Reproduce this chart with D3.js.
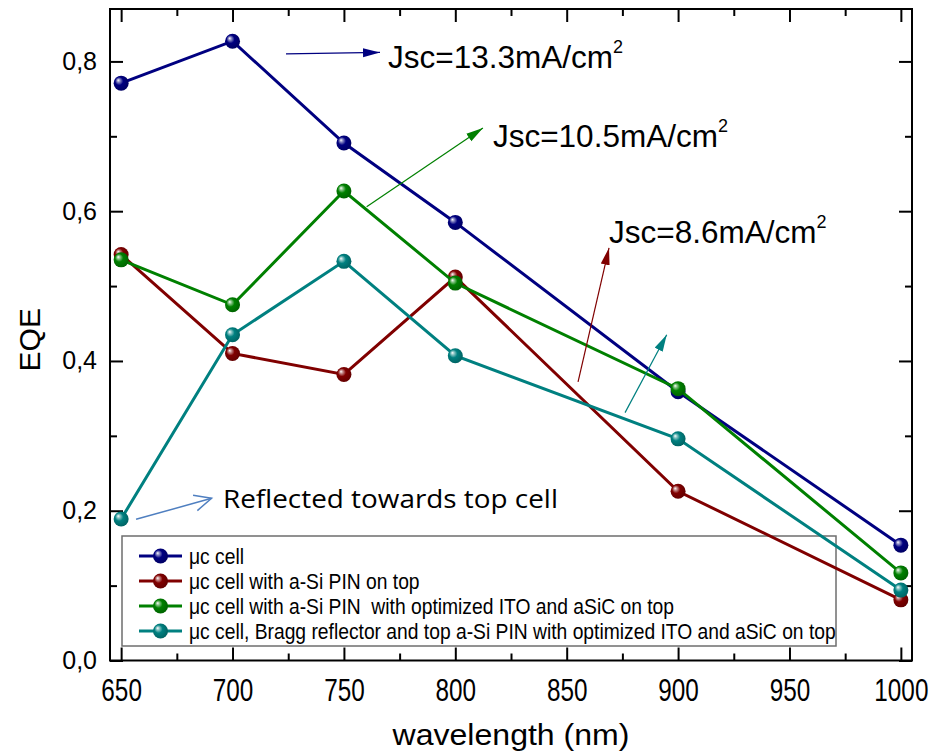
<!DOCTYPE html>
<html>
<head>
<meta charset="utf-8">
<script src="https://cdn.jsdelivr.net/npm/d3@7"></script>
<style>
  body { margin: 0; background: #fff; }
  text { font-family: "Liberation Sans", Arial, sans-serif; fill: #000; }
</style>
</head>
<body>
<div id="graph"></div>
<script>
"use strict";

let width = 930,
    height = 752;

// data
const wavelengths = [650, 700, 750, 800, 900, 1000];
const eqeCell      = [0.771, 0.827, 0.691, 0.585, 0.359, 0.154];
const eqeTopPin    = [0.542, 0.410, 0.382, 0.512, 0.226, 0.081];
const eqeOptimized = [0.535, 0.475, 0.627, 0.504, 0.363, 0.117];
const eqeBragg     = [0.189, 0.435, 0.533, 0.407, 0.296, 0.094];

const seriesNames = [
    "\u03bcc cell",
    "\u03bcc cell with a-Si PIN on top",
    "\u03bcc cell with a-Si PIN  with optimized ITO and aSiC on top",
    "\u03bcc cell, Bragg reflector and top a-Si PIN with optimized ITO and aSiC on top"
];
const seriesColors = ["#000080", "#800000", "#008000", "#008080"];
const seriesValues = [eqeCell, eqeTopPin, eqeOptimized, eqeBragg];

const xMajorTicks = [650, 700, 750, 800, 850, 900, 950, 1000];
const xMinorTicks = [675, 725, 775, 825, 875, 925, 975];
const yMajorTicks = [0, 0.2, 0.4, 0.6, 0.8];
const yMinorTicks = [0.1, 0.3, 0.5, 0.7];

// annotations in data units
const jscLabels = [
    { text: "Jsc=13.3mA/cm", x: 769.8, y: 0.791 },
    { text: "Jsc=10.5mA/cm", x: 816.9, y: 0.686 },
    { text: "Jsc=8.6mA/cm",  x: 869.0, y: 0.558 }
];
const jscArrows = [
    { from: [724.0, 0.810], to: [766.2, 0.812], color: "#000080" },
    { from: [760.2, 0.606], to: [812.4, 0.711], color: "#008000" },
    { from: [855.1, 0.372], to: [869.0, 0.551], color: "#800000" },
    { from: [876.2, 0.331], to: [894.9, 0.435], color: "#008080" }
];
const reflectNote = { text: "Reflected towards top cell", x: 695.7, y: 0.2036,
                      from: [656.7, 0.1885], to: [690.6, 0.2166] };

const plot = { left: 110, right: 912, top: 9, bottom: 660.5 };

let svg = d3.select("#graph").append("svg")
    .attr("width", width)
    .attr("height", height);

let x = d3.scaleLinear().domain([645, 1005]).range([plot.left, plot.right]);
let y = d3.scaleLinear().domain([0, 0.87]).range([plot.bottom, plot.top]);

let defs = svg.append("defs");

// shaded ball markers
seriesColors.forEach(function(c, i) {
    let g = defs.append("radialGradient")
        .attr("id", "ball" + i)
        .attr("cx", 0.45).attr("cy", 0.45).attr("r", 0.6)
        .attr("fx", 0.3).attr("fy", 0.3);
    g.append("stop").attr("offset", "0%").attr("stop-color", "#ffffff");
    g.append("stop").attr("offset", "18%").attr("stop-color", d3.interpolateRgb(c, "#fff")(0.55));
    g.append("stop").attr("offset", "45%").attr("stop-color", c);
    g.append("stop").attr("offset", "100%").attr("stop-color", d3.color(c).darker(0.8));
});

// arrow heads
jscArrows.forEach(function(a, i) {
    defs.append("marker")
        .attr("id", "head" + i)
        .attr("markerUnits", "userSpaceOnUse")
        .attr("markerWidth", 18).attr("markerHeight", 10)
        .attr("refX", 17).attr("refY", 5)
        .attr("orient", "auto")
        .append("path")
        .attr("d", "M0,0.5 L17,5 L0,9.5 Z")
        .attr("fill", a.color);
});
defs.append("marker")
    .attr("id", "openHead")
    .attr("markerUnits", "userSpaceOnUse")
    .attr("markerWidth", 22).attr("markerHeight", 20)
    .attr("refX", 19).attr("refY", 10)
    .attr("orient", "auto")
    .append("path")
    .attr("d", "M2,2 L19,10 L2,18")
    .attr("fill", "none")
    .attr("stroke", "#4f7fc0")
    .attr("stroke-width", 1.5);

// axes (ticks pointing inward, on all four sides)
function styleAxis(g) {
    g.select(".domain").remove();
    g.selectAll(".tick line").attr("stroke", "#000").attr("stroke-width", 2);
}

svg.append("g")
    .attr("transform", "translate(0," + plot.bottom + ")")
    .call(d3.axisBottom(x).tickValues(xMinorTicks).tickSizeInner(-7).tickSizeOuter(0).tickFormat(""))
    .call(styleAxis);
let xAxis = svg.append("g")
    .attr("transform", "translate(0," + plot.bottom + ")")
    .call(d3.axisBottom(x).tickValues(xMajorTicks).tickSizeInner(-13).tickSizeOuter(0).tickPadding(18)
        .tickFormat(d3.format("d")))
    .call(styleAxis);
xAxis.selectAll(".tick text")
    .attr("transform", "scale(0.76,1)")
    .style("font-size", "32px")
    .style("font-family", "'Liberation Sans', Arial, sans-serif");

svg.append("g")
    .attr("transform", "translate(0," + plot.top + ")")
    .call(d3.axisTop(x).tickValues(xMinorTicks).tickSizeInner(-7).tickSizeOuter(0).tickFormat(""))
    .call(styleAxis);
svg.append("g")
    .attr("transform", "translate(0," + plot.top + ")")
    .call(d3.axisTop(x).tickValues(xMajorTicks).tickSizeInner(-13).tickSizeOuter(0).tickFormat(""))
    .call(styleAxis);

svg.append("g")
    .attr("transform", "translate(" + plot.left + ",0)")
    .call(d3.axisLeft(y).tickValues(yMinorTicks).tickSizeInner(-7).tickSizeOuter(0).tickFormat(""))
    .call(styleAxis);
let yAxis = svg.append("g")
    .attr("transform", "translate(" + plot.left + ",0)")
    .call(d3.axisLeft(y).tickValues(yMajorTicks).tickSizeInner(-13).tickSizeOuter(0).tickPadding(13)
        .tickFormat(d => d.toFixed(1).replace(".", ",")))
    .call(styleAxis);
yAxis.selectAll(".tick text")
    .style("font-size", "25px")
    .style("font-family", "'Liberation Sans', Arial, sans-serif");

svg.append("g")
    .attr("transform", "translate(" + plot.right + ",0)")
    .call(d3.axisRight(y).tickValues(yMinorTicks).tickSizeInner(-7).tickSizeOuter(0).tickFormat(""))
    .call(styleAxis);
svg.append("g")
    .attr("transform", "translate(" + plot.right + ",0)")
    .call(d3.axisRight(y).tickValues(yMajorTicks).tickSizeInner(-13).tickSizeOuter(0).tickFormat(""))
    .call(styleAxis);

svg.append("rect")
    .attr("x", plot.left).attr("y", plot.top)
    .attr("width", plot.right - plot.left)
    .attr("height", plot.bottom - plot.top)
    .attr("fill", "none")
    .attr("stroke", "#000")
    .attr("stroke-width", 2);

// axis titles
svg.append("text")
    .attr("x", (plot.left + plot.right) / 2)
    .attr("y", 745)
    .attr("text-anchor", "middle")
    .attr("textLength", 237)
    .attr("lengthAdjust", "spacingAndGlyphs")
    .style("font-size", "30px")
    .text("wavelength (nm)");

svg.append("text")
    .attr("transform", "translate(40," + ((plot.top + plot.bottom) / 2 + 5) + ") rotate(-90)")
    .attr("text-anchor", "middle")
    .style("font-size", "30px")
    .text("EQE");

// legend (box has no fill, lines pass over it)
const legend = { x: 122, y: 536, w: 714, h: 110, rowH: 25, firstRow: 556, textX: 189, textW: 647 };

svg.append("rect")
    .attr("x", legend.x).attr("y", legend.y)
    .attr("width", legend.w).attr("height", legend.h)
    .attr("fill", "none")
    .attr("stroke", "#6e6e6e")
    .attr("stroke-width", 1.5);

let rows = svg.append("g").selectAll("g")
    .data(seriesNames)
    .enter()
    .append("g")
    .attr("transform", (d, i) => "translate(0," + (legend.firstRow + i * legend.rowH) + ")");
rows.append("line")
    .attr("x1", 139).attr("x2", 182)
    .attr("stroke", (d, i) => seriesColors[i])
    .attr("stroke-width", 3);
rows.append("circle")
    .attr("cx", 160.5).attr("r", 7.5)
    .attr("fill", (d, i) => "url(#ball" + i + ")");
let legendTexts = rows.append("text")
    .attr("y", 7.5)
    .style("font-size", "21.5px")
    .style("white-space", "pre")
    .text(d => d);
let longest = d3.max(legendTexts.nodes(), n => n.getComputedTextLength());
let squeeze = legend.textW / longest;
legendTexts.attr("transform", "translate(" + legend.textX + ",0) scale(" + squeeze + ",1)");

// series: line then balls, in drawing order
let line = d3.line()
    .x(d => x(d[0]))
    .y(d => y(d[1]));

seriesValues.forEach(function(vals, i) {
    let pts = wavelengths.map((w, j) => [w, vals[j]]);
    let g = svg.append("g").attr("class", "series");
    g.append("path")
        .datum(pts)
        .attr("fill", "none")
        .attr("stroke", seriesColors[i])
        .attr("stroke-width", 3)
        .attr("d", line);
    g.selectAll("circle")
        .data(pts)
        .enter()
        .append("circle")
        .attr("cx", d => x(d[0]))
        .attr("cy", d => y(d[1]))
        .attr("r", 7.5)
        .attr("fill", "url(#ball" + i + ")");
});

// annotations
jscArrows.forEach(function(a, i) {
    svg.append("line")
        .attr("x1", x(a.from[0])).attr("y1", y(a.from[1]))
        .attr("x2", x(a.to[0])).attr("y2", y(a.to[1]))
        .attr("stroke", a.color)
        .attr("stroke-width", 1.2)
        .attr("marker-end", "url(#head" + i + ")");
});

jscLabels.forEach(function(l) {
    let t = svg.append("text")
        .attr("x", x(l.x))
        .attr("y", y(l.y))
        .style("font-size", "31.5px")
        .text(l.text);
    t.append("tspan")
        .attr("dy", -15)
        .style("font-size", "18px")
        .text("2");
});

svg.append("line")
    .attr("x1", x(reflectNote.from[0])).attr("y1", y(reflectNote.from[1]))
    .attr("x2", x(reflectNote.to[0])).attr("y2", y(reflectNote.to[1]))
    .attr("stroke", "#4f7fc0")
    .attr("stroke-width", 1.5)
    .attr("marker-end", "url(#openHead)");

svg.append("text")
    .attr("x", x(reflectNote.x))
    .attr("y", y(reflectNote.y))
    .attr("textLength", 335)
    .attr("lengthAdjust", "spacingAndGlyphs")
    .style("font-family", "'Open Sans', 'Noto Sans', sans-serif")
    .style("font-size", "26px")
    .text(reflectNote.text);
</script>
</body>
</html>
